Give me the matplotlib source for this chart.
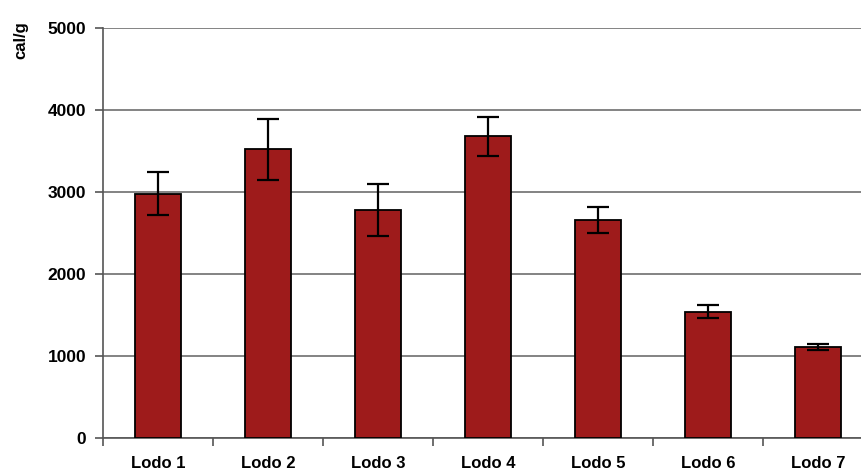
import numpy as np
import matplotlib.pyplot as plt

# データ
labels = ["Lodo 1", "Lodo 2", "Lodo 3", "Lodo 4", "Lodo 5", "Lodo 6", "Lodo 7"]
values = [2980, 3520, 2780, 3680, 2655, 1540, 1112]
errors = [262, 376, 318, 240, 157, 82, 40]

plt.rcParams['font.family'] = ['Liberation Sans', 'DejaVu Sans']

fig = plt.figure(figsize=(8.62, 4.74), dpi=100)
ax = fig.add_axes([103 / 862, 1 - 438 / 474, 770 / 862, 410 / 474])

x = np.arange(len(labels))
ax.bar(x, values, width=0.415, color='#9E1B1B', edgecolor='black', linewidth=1.3, zorder=3)
ax.errorbar(x, values, yerr=errors, fmt='none', ecolor='black', elinewidth=1.6,
            capsize=8, capthick=1.6, zorder=4)

# 軸の設定
ax.set_xlim(-0.5, len(labels) - 0.5)
ax.set_ylim(0, 5000)
ax.set_yticks(np.arange(0, 5001, 1000))
ax.set_yticklabels([str(v) for v in range(0, 5001, 1000)], fontsize=12.5, fontweight='bold')
ax.yaxis.grid(True, color='#6e6e6e', linewidth=1.2, zorder=0)

ax.set_xticks(x)
ax.set_xticklabels(labels, fontsize=12, fontweight='bold')
ax.tick_params(axis='x', which='major', length=0, pad=13)
ax.set_xticks(np.arange(-0.5, len(labels), 1), minor=True)
ax.tick_params(axis='x', which='minor', length=6, width=1.2, color='#555555', direction='out')
ax.tick_params(axis='y', length=6, width=1.2, color='#555555', pad=6)

for s in ['top', 'right']:
    ax.spines[s].set_visible(False)
for s in ['left', 'bottom']:
    ax.spines[s].set_color('#555555')
    ax.spines[s].set_linewidth(1.2)

fig.text(21 / 862, 1 - 40 / 474, 'cal/g', rotation=90, fontsize=12, fontweight='bold',
         ha='center', va='center')

plt.savefig("out.png", dpi=100)
